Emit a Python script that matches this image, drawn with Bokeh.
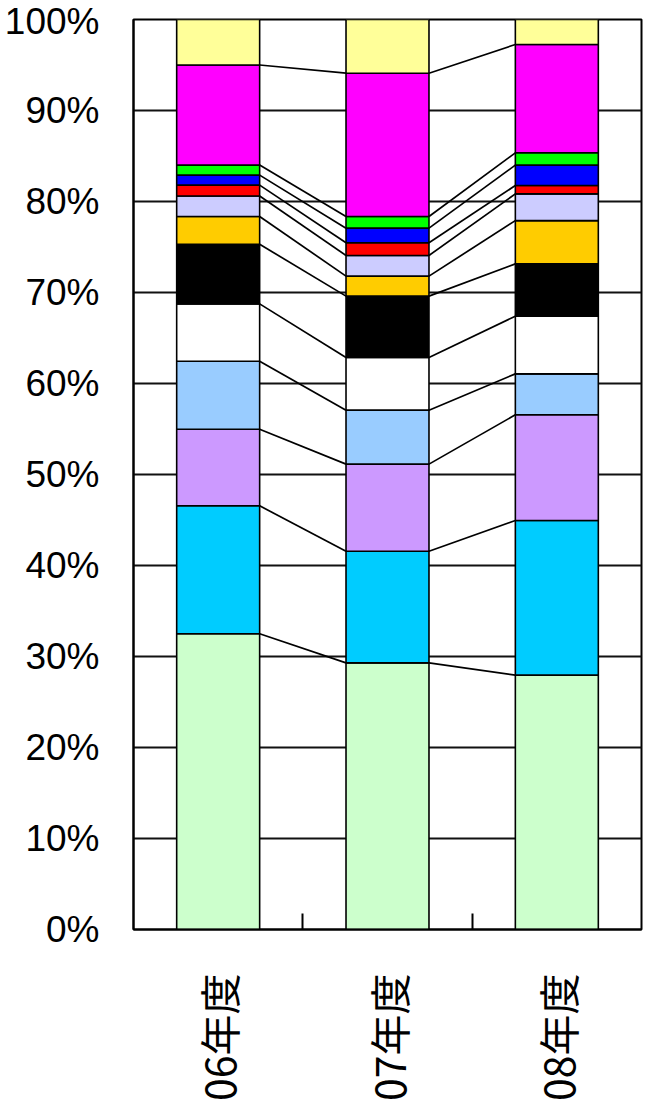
from bokeh.plotting import figure
from bokeh.models import ColumnDataSource, FixedTicker
from bokeh.embed import file_html
from bokeh.resources import INLINE
import numpy as np
import math

# ---- data (percent shares, bottom to top) ----
categories = ["06年度", "07年度", "08年度"]
series_01 = [32.5, 29.3, 27.95]   # light green
series_02 = [14.06, 12.27, 17.0]  # cyan
series_03 = [8.42, 9.57, 11.61]   # purple
series_04 = [7.47, 5.93, 4.5]     # light blue
series_05 = [6.3, 5.79, 6.34]     # white
series_06 = [6.55, 6.74, 5.75]    # black
series_07 = [3.05, 2.2, 4.75]     # orange
series_08 = [2.25, 2.27, 2.94]    # lavender
series_09 = [1.2, 1.39, 0.92]     # red
series_10 = [1.1, 1.61, 2.24]     # blue
series_11 = [1.1, 1.28, 1.35]     # green
series_12 = [11.0, 15.75, 11.9]   # magenta
series_13 = [5.0, 5.9, 2.75]      # yellow
y_ticks = [0, 10, 20, 30, 40, 50, 60, 70, 80, 90, 100]
y_tick_labels = ["0%", "10%", "20%", "30%", "40%", "50%", "60%", "70%", "80%", "90%", "100%"]

series = [series_01, series_02, series_03, series_04, series_05, series_06, series_07,
          series_08, series_09, series_10, series_11, series_12, series_13]
colors = ["#CCFFCC", "#00CCFF", "#CC99FF", "#99CCFF", "#FFFFFF", "#000000", "#FFCC00",
          "#CCCCFF", "#FF0000", "#0000FF", "#00FF00", "#FF00FF", "#FFFF99"]
names = [f"s{i:02d}" for i in range(1, len(series) + 1)]

xpos = [i + 0.5 for i in range(len(categories))]
bar_w = 0.49

data = {"x": xpos}
for n, s in zip(names, series):
    data[n] = s
source = ColumnDataSource(data)

p = figure(width=645, height=1118, x_range=(0, 3), y_range=(0, 100),
           output_backend="svg", toolbar_location=None,
           min_border_left=133, min_border_right=4, min_border_top=19, min_border_bottom=189)

p.background_fill_color = "white"
p.border_fill_color = "white"
p.outline_line_color = "black"
p.outline_line_width = 2

# grid
p.xgrid.visible = False
p.ygrid.ticker = FixedTicker(ticks=y_ticks)
p.ygrid.grid_line_color = "#111111"
p.ygrid.grid_line_width = 2

# bars
p.vbar_stack(names, x="x", width=bar_w, color=colors, source=source,
             line_color="black", line_width=1.6)

# connector lines between bars
cum = np.cumsum(np.array(series), axis=0)  # shape (n_series, n_cats)
x0s, y0s, x1s, y1s = [], [], [], []
for k in range(len(series) - 1):
    for j in range(len(categories) - 1):
        x0s.append(xpos[j] + bar_w / 2)
        x1s.append(xpos[j + 1] - bar_w / 2)
        y0s.append(cum[k, j])
        y1s.append(cum[k, j + 1])
p.segment(x0=x0s, y0=y0s, x1=x1s, y1=y1s, line_color="black", line_width=1.7)

# y axis
p.yaxis.ticker = FixedTicker(ticks=y_ticks)
p.yaxis.major_label_overrides = {t: l for t, l in zip(y_ticks, y_tick_labels)}
p.yaxis.major_tick_in = 0
p.yaxis.major_tick_out = 0
p.yaxis.minor_tick_line_color = None
p.yaxis.axis_line_color = "black"
p.yaxis.axis_line_width = 2
p.yaxis.major_label_standoff = 34
p.yaxis.major_label_text_font = "Liberation Sans"
p.yaxis.major_label_text_font_size = "37px"
p.yaxis.major_label_text_color = "black"

# x axis
p.xaxis.ticker = FixedTicker(ticks=xpos, minor_ticks=[1, 2])
p.xaxis.major_label_overrides = {x: c for x, c in zip(xpos, categories)}
p.xaxis.major_tick_line_color = None
p.xaxis.minor_tick_in = 16
p.xaxis.minor_tick_out = 0
p.xaxis.minor_tick_line_color = "black"
p.xaxis.minor_tick_line_width = 2
p.xaxis.axis_line_color = "black"
p.xaxis.axis_line_width = 2
p.xaxis.major_label_orientation = math.pi / 2
p.xaxis.major_label_standoff = 38
p.xaxis.major_label_text_font = "Noto Sans CJK JP"
p.xaxis.major_label_text_font_size = "41px"
p.xaxis.major_label_text_color = "black"

open("out.html", "w").write(file_html(p, INLINE))
